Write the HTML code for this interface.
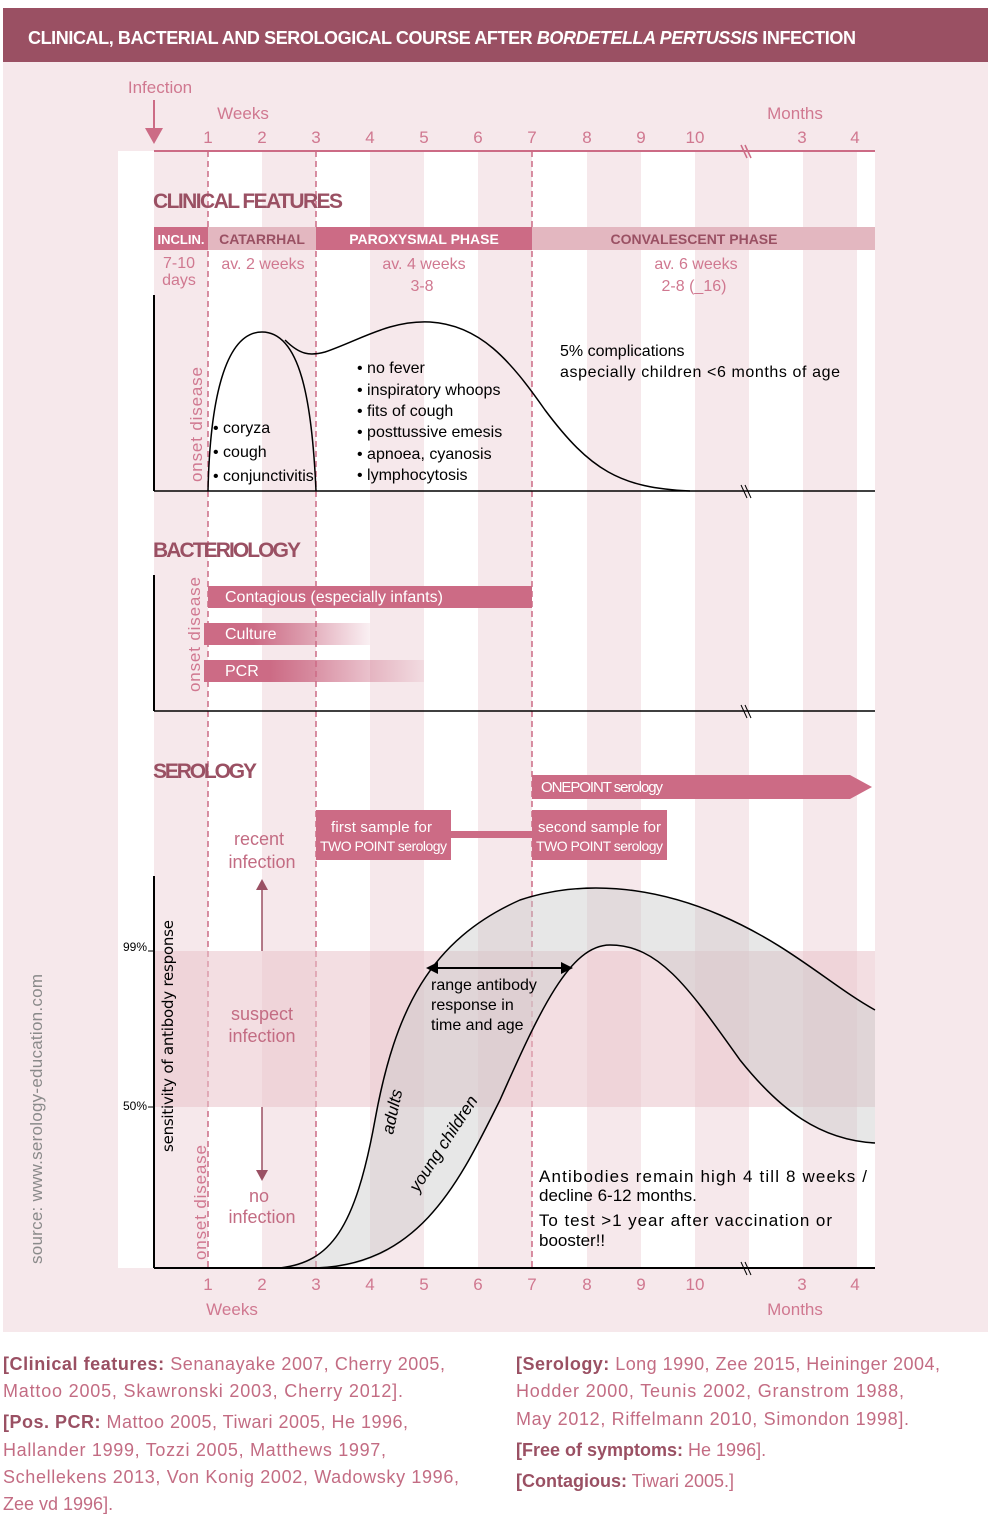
<!DOCTYPE html>
<html><head><meta charset="utf-8"><style>
html,body{margin:0;padding:0;background:#fff;}
svg{display:block;font-family:"Liberation Sans Narrow","Liberation Sans",sans-serif;}
</style></head><body>
<svg width="992" height="1522" viewBox="0 0 992 1522" xmlns="http://www.w3.org/2000/svg">
<defs>
<linearGradient id="g1" x1="0" x2="1"><stop offset="0.3" stop-color="#cc6b85"/><stop offset="1" stop-color="#cc6b85" stop-opacity="0.1"/></linearGradient>
</defs>
<rect x="3" y="62" width="985" height="1270" fill="#f6e8eb"/>
<rect x="3" y="8" width="985" height="54" fill="#9a5063"/>
<text x="28" y="44" fill="#fff" font-size="18" font-weight="bold" font-family="Liberation Sans" textLength="828">CLINICAL, BACTERIAL AND SEROLOGICAL COURSE AFTER <tspan font-style="italic">BORDETELLA PERTUSSIS</tspan> INFECTION</text>
<rect x="118" y="151" width="757" height="1117" fill="#fff"/>
<g fill="#f6e8eb">
<rect x="154" y="151" width="54" height="1117"/><rect x="262" y="151" width="54" height="1117"/><rect x="370" y="151" width="54" height="1117"/><rect x="478" y="151" width="54" height="1117"/><rect x="587" y="151" width="54" height="1117"/><rect x="695" y="151" width="54" height="1117"/><rect x="803" y="151" width="54" height="1117"/>
</g>
<line x1="154" y1="151" x2="875" y2="151" stroke="#cc6b85" stroke-width="2"/>
<line x1="741" y1="145" x2="747" y2="158" stroke="#cc6b85" stroke-width="1.5"/><line x1="745" y1="145" x2="751" y2="158" stroke="#cc6b85" stroke-width="1.5"/>
<g fill="#d07890" font-size="17" text-anchor="middle">
<text x="160" y="93">Infection</text>
<text x="243" y="119">Weeks</text><text x="795" y="119">Months</text>
<text x="208" y="143">1</text><text x="262" y="143">2</text><text x="316" y="143">3</text><text x="370" y="143">4</text><text x="424" y="143">5</text><text x="478" y="143">6</text><text x="532" y="143">7</text><text x="587" y="143">8</text><text x="641" y="143">9</text><text x="695" y="143">10</text><text x="802" y="143">3</text><text x="855" y="143">4</text>
<text x="208" y="1290">1</text><text x="262" y="1290">2</text><text x="316" y="1290">3</text><text x="370" y="1290">4</text><text x="424" y="1290">5</text><text x="478" y="1290">6</text><text x="532" y="1290">7</text><text x="587" y="1290">8</text><text x="641" y="1290">9</text><text x="695" y="1290">10</text><text x="802" y="1290">3</text><text x="855" y="1290">4</text>
<text x="232" y="1315">Weeks</text><text x="795" y="1315">Months</text>
</g>
<line x1="154" y1="100" x2="154" y2="132" stroke="#cc6b85" stroke-width="2"/>
<polygon points="145,128 163,128 154,144" fill="#cc6b85"/>
<g stroke="#cc6b85" stroke-width="1.5" stroke-dasharray="6,4">
<line x1="208" y1="151" x2="208" y2="1268"/><line x1="316" y1="151" x2="316" y2="1268"/><line x1="532" y1="151" x2="532" y2="1268"/>
</g>
<text x="153" y="208" fill="#9a5063" font-size="21" font-weight="bold" textLength="190">CLINICAL FEATURES</text>
<rect x="154" y="227" width="54" height="23" fill="#cc6b85"/>
<rect x="208" y="227" width="108" height="23" fill="#e3b7c0"/>
<rect x="316" y="227" width="216" height="23" fill="#cc6b85"/>
<rect x="532" y="227" width="343" height="23" fill="#e3b7c0"/>
<g font-size="14" font-weight="bold" text-anchor="middle">
<text x="181" y="244" fill="#fff" font-size="13">INCLIN.</text><text x="262" y="244" fill="#9a5063">CATARRHAL</text><text x="424" y="244" fill="#fff">PAROXYSMAL PHASE</text><text x="694" y="244" fill="#9a5063">CONVALESCENT PHASE</text>
</g>
<g fill="#d07890" font-size="16" text-anchor="middle">
<text x="179" y="268">7-10</text><text x="179" y="285">days</text>
<text x="263" y="269">av. 2 weeks</text>
<text x="424" y="269">av. 4  weeks</text><text x="422" y="291">3-8</text>
<text x="696" y="269">av. 6  weeks</text><text x="694" y="291">2-8 (_16)</text>
</g>
<line x1="154" y1="295" x2="154" y2="491" stroke="#000" stroke-width="2"/>
<line x1="154" y1="491" x2="875" y2="491" stroke="#000" stroke-width="1.5"/>
<line x1="741" y1="485" x2="747" y2="498" stroke="#000"/><line x1="745" y1="485" x2="751" y2="498" stroke="#000"/>
<text transform="translate(202,482) rotate(-90)" fill="#d07890" font-size="17" textLength="115">onset disease</text>
<path d="M208,491 C210,400 225,332 262,332 C300,332 312,400 316,491" fill="none" stroke="#000" stroke-width="1.5"/>
<path d="M285,340 C300,355 310,356 325,352 C360,340 390,320 430,322 C480,325 510,360 545,410 C590,470 620,488 690,491" fill="none" stroke="#000" stroke-width="1.5"/>
<g font-size="16" fill="#000">
<text x="213" y="433">• coryza</text><text x="213" y="457">• cough</text><text x="213" y="481">• conjunctivitis</text>
<text x="357" y="373">• no fever</text><text x="357" y="395">• inspiratory whoops</text><text x="357" y="416">• fits of cough</text><text x="357" y="437">• posttussive emesis</text><text x="357" y="459">• apnoea, cyanosis</text><text x="357" y="480">• lymphocytosis</text>
<text x="560" y="356">5% complications</text><text x="560" y="377" textLength="280">aspecially children &lt;6 months of age</text>
</g>
<text x="153" y="557" fill="#9a5063" font-size="21" font-weight="bold" textLength="148">BACTERIOLOGY</text>
<line x1="154" y1="575" x2="154" y2="711" stroke="#000" stroke-width="2"/>
<line x1="154" y1="711" x2="875" y2="711" stroke="#000" stroke-width="1.5"/>
<line x1="741" y1="705" x2="747" y2="718" stroke="#000"/><line x1="745" y1="705" x2="751" y2="718" stroke="#000"/>
<text transform="translate(200,692) rotate(-90)" fill="#d07890" font-size="17" textLength="115">onset disease</text>
<rect x="208" y="586" width="324" height="22" fill="#cc6b85"/>
<rect x="204" y="623" width="166" height="22" fill="url(#g1)"/>
<rect x="204" y="660" width="220" height="22" fill="url(#g1)"/>
<g fill="#fff" font-size="16"><text x="225" y="602">Contagious (especially infants)</text><text x="225" y="639">Culture</text><text x="225" y="676">PCR</text></g>
<text x="153" y="778" fill="#9a5063" font-size="21" font-weight="bold" textLength="104">SEROLOGY</text>
<polygon points="532,775 850,775 872,787 850,799 532,799" fill="#cc6b85"/>
<text x="541" y="792" fill="#fff" font-size="15" textLength="122">ONEPOINT serology</text>
<rect x="316" y="810" width="135" height="50" fill="#cc6b85"/>
<rect x="532" y="810" width="135" height="50" fill="#cc6b85"/>
<rect x="451" y="831" width="81" height="7" fill="#cc6b85"/>
<g fill="#fff" font-size="15"><text x="331" y="832" textLength="101">first sample for</text><text x="320" y="851" font-size="14" textLength="127">TWO POINT serology</text><text x="538" y="832" textLength="123">second sample for</text><text x="536" y="851" font-size="14" textLength="127">TWO POINT serology</text></g>
<rect x="154" y="951" width="721" height="156" fill="#e9c2cb" fill-opacity="0.55"/>
<path d="M280,1268 C330,1262 355,1230 375,1120 C395,1010 430,940 520,900 C580,880 650,885 720,915 C790,945 830,985 875,1010 L875,1143 C820,1140 780,1110 740,1060 C690,990 660,945 610,945 C570,945 540,1010 500,1100 C450,1210 400,1268 320,1268 Z" fill="#c9caca" fill-opacity="0.45" stroke="none"/>
<path d="M280,1268 C330,1262 355,1230 375,1120 C395,1010 430,940 520,900 C580,880 650,885 720,915 C790,945 830,985 875,1010" fill="none" stroke="#000" stroke-width="1.5"/>
<path d="M310,1268 C420,1268 460,1180 500,1100 C540,1010 570,945 610,945 C660,945 690,990 740,1060 C780,1110 820,1140 875,1143" fill="none" stroke="#000" stroke-width="1.5"/>
<line x1="154" y1="876" x2="154" y2="1268" stroke="#000" stroke-width="2"/>
<line x1="154" y1="1268" x2="875" y2="1268" stroke="#000" stroke-width="2"/>
<line x1="741" y1="1262" x2="747" y2="1275" stroke="#000"/><line x1="745" y1="1262" x2="751" y2="1275" stroke="#000"/>
<line x1="148" y1="951" x2="154" y2="951" stroke="#000"/><line x1="148" y1="1107" x2="154" y2="1107" stroke="#000"/>
<text x="123" y="951" font-size="12">99%</text><text x="123" y="1110" font-size="12">50%</text>
<text transform="translate(173,1152) rotate(-90)" font-size="15" font-family="DejaVu Sans" fill="#000" textLength="232">sensitivity of antibody response</text>
<text transform="translate(206,1260) rotate(-90)" fill="#d07890" font-size="17" textLength="115">onset disease</text>
<text transform="translate(42,1264) rotate(-90)" fill="#8a8a8a" font-size="17" textLength="290">source: www.serology-education.com</text>
<line x1="262" y1="888" x2="262" y2="951" stroke="#9a5063" stroke-width="1.5"/><polygon points="256,890 268,890 262,879" fill="#9a5063"/>
<line x1="262" y1="1107" x2="262" y2="1172" stroke="#9a5063" stroke-width="1.5"/><polygon points="256,1170 268,1170 262,1181" fill="#9a5063"/>
<g fill="#c36c83" font-size="18" text-anchor="middle">
<text x="259" y="845">recent</text><text x="262" y="868">infection</text>
<text x="262" y="1020">suspect</text><text x="262" y="1042">infection</text>
<text x="259" y="1202">no</text><text x="262" y="1223">infection</text>
</g>
<line x1="436" y1="968" x2="564" y2="968" stroke="#000" stroke-width="2"/>
<polygon points="426,968 438,962 438,974"/><polygon points="573,968 561,962 561,974"/>
<g font-size="16"><text x="431" y="990">range antibody</text><text x="431" y="1010">response in</text><text x="431" y="1030">time and age</text></g>
<text transform="translate(393,1135) rotate(-78)" font-size="17" font-style="italic">adults</text>
<text transform="translate(418,1193) rotate(-57)" font-size="17" font-style="italic">young children</text>
<g font-size="17"><text x="539" y="1182" textLength="328">Antibodies remain high 4 till 8 weeks /</text><text x="539" y="1201">decline 6-12 months.</text><text x="539" y="1226" textLength="293">To test &gt;1 year after vaccination or</text><text x="539" y="1246">booster!!</text></g>
<g font-size="18" fill="#c36c83">
<text x="3" y="1370" textLength="442"><tspan fill="#9a5063" font-weight="bold">[Clinical features:</tspan> Senanayake 2007, Cherry 2005,</text>
<text x="3" y="1397" textLength="400">Mattoo 2005, Skawronski 2003, Cherry 2012].</text>
<text x="3" y="1428" textLength="405"><tspan fill="#9a5063" font-weight="bold">[Pos. PCR:</tspan> Mattoo 2005, Tiwari 2005, He 1996,</text>
<text x="3" y="1456" textLength="383">Hallander 1999, Tozzi 2005, Matthews 1997,</text>
<text x="3" y="1483" textLength="456">Schellekens 2013, Von Konig 2002, Wadowsky 1996,</text>
<text x="3" y="1510">Zee vd 1996].</text>
<text x="516" y="1370" textLength="424"><tspan fill="#9a5063" font-weight="bold">[Serology:</tspan> Long 1990, Zee 2015, Heininger 2004,</text>
<text x="516" y="1397" textLength="388">Hodder 2000, Teunis 2002, Granstrom 1988,</text>
<text x="516" y="1425" textLength="393">May 2012, Riffelmann 2010, Simondon 1998].</text>
<text x="516" y="1456"><tspan fill="#9a5063" font-weight="bold">[Free of symptoms:</tspan> He 1996].</text>
<text x="516" y="1487"><tspan fill="#9a5063" font-weight="bold">[Contagious:</tspan> Tiwari 2005.]</text>
</g>
</svg>
</body></html>
